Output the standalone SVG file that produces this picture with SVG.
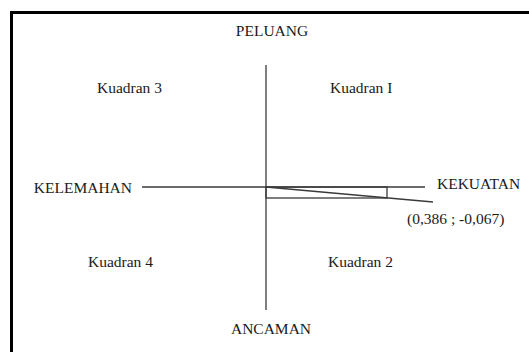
<svg xmlns="http://www.w3.org/2000/svg" width="529" height="352" viewBox="0 0 529 352">
<style>
text{font-family:"Liberation Serif","Times New Roman",serif;font-size:15.5px;fill:#1a1a1a}
.ax{stroke:#3a3a3a;stroke-width:1.3;fill:none}
</style>
<rect x="0" y="0" width="529" height="352" fill="#fff"/>
<rect x="11.5" y="12.5" width="540" height="360" fill="none" stroke="#000" stroke-width="3"/>
<g id="connectors">
<line class="ax" x1="266" y1="65" x2="266" y2="310"/>
<line class="ax" x1="142" y1="187" x2="425" y2="187"/>
<rect class="ax" x="266" y="187" width="121" height="11"/>
<line class="ax" x1="266" y1="187" x2="433" y2="202"/>
</g>
<g id="labels">
<text id="peluang" x="272" y="36" text-anchor="middle">PELUANG</text>
<text id="ancaman" x="271" y="334" text-anchor="middle">ANCAMAN</text>
<text id="kelemahan" x="132" y="193" text-anchor="end">KELEMAHAN</text>
<text id="kekuatan" x="437" y="189">KEKUATAN</text>
<text id="kuadran3" x="97" y="93">Kuadran 3</text>
<text id="kuadran1" x="330" y="93">Kuadran I</text>
<text id="kuadran4" x="88" y="267">Kuadran 4</text>
<text id="kuadran2" x="328" y="267">Kuadran 2</text>
<text id="coord" x="407" y="224">(0,386 ; -0,067)</text>
</g>
</svg>
